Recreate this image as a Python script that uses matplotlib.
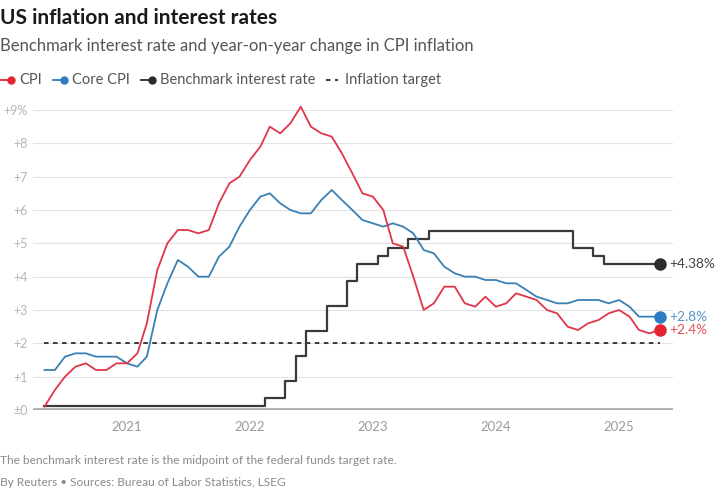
import pandas as pd
import matplotlib
matplotlib.use('Agg')
import matplotlib.pyplot as plt
import matplotlib.dates as mdates
from matplotlib.lines import Line2D

plt.rcParams['font.family'] = ['Lato', 'DejaVu Sans']

# monthly year-on-year change, May 2020 .. May 2025
cpi = [0.1, 0.6, 1.0, 1.3, 1.4, 1.2, 1.2, 1.4,
       1.4, 1.7, 2.6, 4.2, 5.0, 5.4, 5.4, 5.3, 5.4, 6.2, 6.8, 7.0,
       7.5, 7.9, 8.5, 8.3, 8.6, 9.1, 8.5, 8.3, 8.2, 7.7, 7.1, 6.5,
       6.4, 6.0, 5.0, 4.9, 4.0, 3.0, 3.2, 3.7, 3.7, 3.2, 3.1, 3.4,
       3.1, 3.2, 3.5, 3.4, 3.3, 3.0, 2.9, 2.5, 2.4, 2.6, 2.7, 2.9,
       3.0, 2.8, 2.4, 2.3, 2.4]
core_cpi = [1.2, 1.2, 1.6, 1.7, 1.7, 1.6, 1.6, 1.6,
            1.4, 1.3, 1.6, 3.0, 3.8, 4.5, 4.3, 4.0, 4.0, 4.6, 4.9, 5.5,
            6.0, 6.4, 6.5, 6.2, 6.0, 5.9, 5.9, 6.3, 6.6, 6.3, 6.0, 5.7,
            5.6, 5.5, 5.6, 5.5, 5.3, 4.8, 4.7, 4.3, 4.1, 4.0, 4.0, 3.9,
            3.9, 3.8, 3.8, 3.6, 3.4, 3.3, 3.2, 3.2, 3.3, 3.3, 3.3, 3.2,
            3.3, 3.1, 2.8, 2.8, 2.8]
months = pd.date_range('2020-05-01', '2025-05-01', freq='MS')

# fed funds target midpoint, by month of change
rate_dates = ['2020-05', '2022-03', '2022-05', '2022-06', '2022-07',
              '2022-09', '2022-11', '2022-12', '2023-02', '2023-03',
              '2023-05', '2023-07', '2024-09', '2024-11', '2024-12']
rate_values = [0.125, 0.375, 0.875, 1.625, 2.375, 3.125, 3.875, 4.375, 4.625, 4.875,
               5.125, 5.375, 4.875, 4.625, 4.375]
target = 2.0

yticks = [0, 1, 2, 3, 4, 5, 6, 7, 8, 9]
ytick_labels = ['±0', '+1', '+2', '+3', '+4', '+5', '+6', '+7', '+8', '+9%']
years = ['2021', '2022', '2023', '2024', '2025']

RED = '#e5232f'
BLUE = '#2f7cc4'
BLACK = '#2b2b2b'

W, H = 720, 491
fig = plt.figure(figsize=(W / 100, H / 100), dpi=100)
ax = fig.add_axes([33 / W, 1 - 410 / H, 640 / W, 310 / H])

# monthly rate series, forward filled between changes
rate = pd.Series(rate_values, index=pd.to_datetime(rate_dates, format='%Y-%m'))
rate = rate.reindex(months, method='ffill')

for y in yticks[1:]:
    ax.axhline(y, color='#e2e2e2', lw=0.8, zorder=0)
ax.axhline(0, color='#a9a9a9', lw=2.6, zorder=1, solid_capstyle='butt')

ax.plot([months[0], months[-1]], [target, target], color=BLACK, lw=1.3,
        ls=(0, (2.5, 2.5)), zorder=2)
ax.step(months, rate.values, where='mid', color='#3a3a3a', lw=1.6, zorder=3)
ax.plot(months, core_cpi, color='#3b80b3', lw=1.3, zorder=4)
ax.plot(months, cpi, color='#e0354a', lw=1.3, zorder=5)

ax.plot(months[-1], rate.iloc[-1], 'o', color=BLACK, ms=8, zorder=6)
ax.plot(months[-1], core_cpi[-1], 'o', color=BLUE, ms=8, zorder=6)
ax.plot(months[-1], cpi[-1], 'o', color=RED, ms=8, zorder=6)

ends = [(rate.iloc[-1], '+4.38%', '#444444'), (core_cpi[-1], '+2.8%', '#5b93c9'),
        (cpi[-1], '+2.4%', '#e2505a')]
for val, lab, col in ends:
    ax.annotate(lab, (months[-1], val), xytext=(7, 0), textcoords='offset points',
                va='center', ha='left', fontsize=9.8, color=col, annotation_clip=False)

ax.set_xlim(pd.Timestamp('2020-03-28'), pd.Timestamp('2025-06-10'))
ax.set_ylim(0, 9.3)
ax.set_yticks(yticks)
ax.set_yticklabels(ytick_labels)
ax.set_xticks(pd.to_datetime([y + '-01-01' for y in years]))
ax.xaxis.set_major_formatter(mdates.DateFormatter('%Y'))
ax.tick_params(axis='y', length=0, pad=4, labelsize=9, labelcolor='#b5b5b5')
ax.tick_params(axis='x', length=0, pad=8, labelsize=9.5, labelcolor='#9a9a9a')
for s in ax.spines.values():
    s.set_visible(False)
ax.patch.set_alpha(0)

fig.text(0, 1 - 18 / H, 'US inflation and interest rates', fontsize=15,
         fontweight='bold', color='#1a1a1a', va='center', ha='left')
fig.text(0, 1 - 46 / H, 'Benchmark interest rate and year-on-year change in CPI inflation',
         fontsize=12, color='#555555', va='center', ha='left')

# legend row
fig.canvas.draw()
renderer = fig.canvas.get_renderer()
legend_y = 1 - 80 / H
x = 0
items = [('CPI', RED, '-'), ('Core CPI', BLUE, '-'),
         ('Benchmark interest rate', BLACK, '-'), ('Inflation target', BLACK, '--')]
for label, col, style in items:
    if style == '-':
        fig.add_artist(Line2D([x / W, (x + 10) / W], [legend_y, legend_y],
                              color=col, lw=1.3, transform=fig.transFigure))
        fig.add_artist(Line2D([(x + 11) / W], [legend_y], marker='o', ms=5,
                              color=col, transform=fig.transFigure))
    else:
        fig.add_artist(Line2D([x / W, (x + 12) / W], [legend_y, legend_y],
                              color=col, lw=1.3, ls=(0, (2.5, 2.5)),
                              transform=fig.transFigure))
    t = fig.text((x + 19) / W, legend_y, label, fontsize=10.5, color='#555555',
                 va='center', ha='left')
    bb = t.get_window_extent(renderer)
    x = bb.x1 + 11

fig.text(0, 1 - 461 / H,
         'The benchmark interest rate is the midpoint of the federal funds target rate.',
         fontsize=8.6, color='#8a8a8a', va='center', ha='left')
fig.text(0, 1 - 482 / H, 'By Reuters \u2022 Sources: Bureau of Labor Statistics, LSEG',
         fontsize=8.6, color='#8a8a8a', va='center', ha='left')

fig.savefig('out.png', dpi=100, facecolor='white')
